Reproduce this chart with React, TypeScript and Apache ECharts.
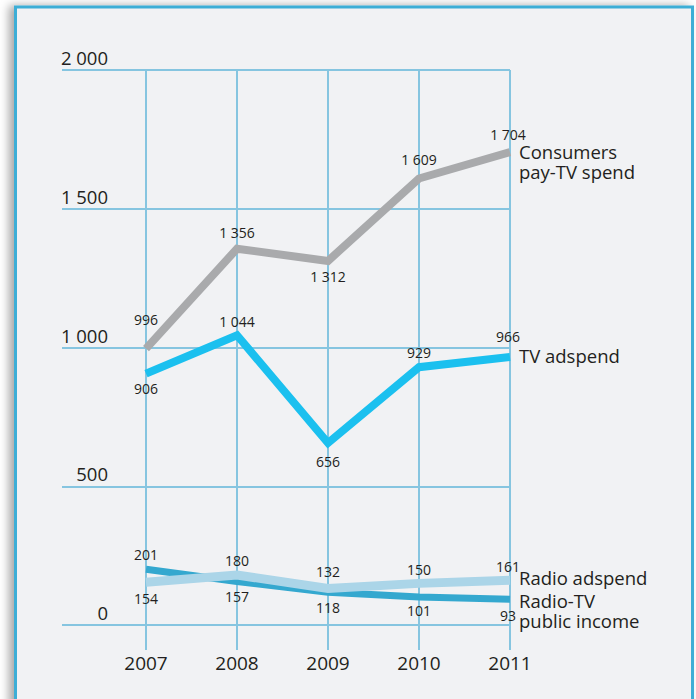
import React, { useEffect, useRef } from "react";
import * as echarts from "echarts";

const years = ["2007", "2008", "2009", "2010", "2011"];
const consumersPayTv = [996, 1356, 1312, 1609, 1704];
const tvAdspend = [906, 1044, 656, 929, 966];
const radioAdspend = [154, 180, 132, 150, 161];
const radioTvPublicIncome = [201, 157, 118, 101, 93];
const yTicks = [0, 500, 1000, 1500, 2000];

// label vertical offsets (style only)
const consumersLabelDy = [-29, -16, 16, -19, -18];
const tvLabelDy = [15, -14, 19, -15, -20];
const radioLabelDy = [16, -15, -17, -14, -14];
const publicLabelDy = [-15, 15, 15, 14, 16];

const FONT = "'Open Sans', 'Noto Sans', sans-serif";
const GRID_COLOR = "#86c5e0";
const TEXT = "#231f20";

const fmt = (v: number) => {
  const s = String(Math.round(v));
  return s.length > 3 ? s.slice(0, s.length - 3) + " " + s.slice(s.length - 3) : s;
};

function makeSeries(
  name: string,
  endName: string,
  values: number[],
  dys: number[],
  color: string,
  width: number,
  endDy: number
) {
  return {
    type: "line",
    name,
    xAxisIndex: 1,
    yAxisIndex: 1,
    symbol: "circle",
    symbolSize: 1,
    itemStyle: { color: "rgba(0,0,0,0)" },
    lineStyle: { color, width, join: "miter", cap: "butt" },
    data: values.map((v, i) => ({
      value: v,
      label: {
        show: true,
        position: "inside",
        offset: [i === values.length - 1 ? -2 : 0, dys[i]],
      },
    })),
    label: {
      show: true,
      color: TEXT,
      fontFamily: FONT,
      fontSize: 14,
      formatter: (p: any) => fmt(p.value),
    },
    endLabel: {
      show: true,
      formatter: () => endName,
      color: TEXT,
      fontFamily: FONT,
      fontSize: 18.5,
      lineHeight: 20,
      distance: 9,
      offset: [0, endDy],
      align: "left",
    },
    emphasis: { disabled: true },
    z: 3,
  };
}

export default function App() {
  const ref = useRef<HTMLDivElement>(null);
  useEffect(() => {
    if (!ref.current) return;
    const chart = echarts.init(ref.current, undefined, { renderer: "svg" });
    chart.setOption({
      animation: false,
      backgroundColor: "#ffffff",
      graphic: [
        {
          type: "rect",
          z: -10,
          silent: true,
          shape: { x: 15.5, y: 7, width: 677, height: 730 },
          style: {
            fill: "#f1f2f4",
            stroke: "#3eaed6",
            lineWidth: 3,
            shadowBlur: 10,
            shadowOffsetX: -5,
            shadowOffsetY: 0,
            shadowColor: "rgba(0,0,0,0.35)",
          },
        },
      ],
      grid: [
        { left: 62, right: 186, top: 70, bottom: 74 },
        { left: 146, right: 186, top: 70, bottom: 74 },
      ],
      xAxis: [
        { type: "value", gridIndex: 0, show: false, min: 0, max: 1 },
        {
          type: "category",
          gridIndex: 1,
          data: years,
          boundaryGap: false,
          axisLine: { show: false },
          axisTick: {
            show: true,
            length: 25,
            lineStyle: { color: GRID_COLOR, width: 2 },
          },
          splitLine: { show: true, lineStyle: { color: GRID_COLOR, width: 2 } },
          axisLabel: {
            color: TEXT,
            fontFamily: FONT,
            fontSize: 19,
            margin: 28,
          },
        },
      ],
      yAxis: [
        {
          type: "value",
          gridIndex: 0,
          min: yTicks[0],
          max: yTicks[yTicks.length - 1],
          interval: yTicks[1] - yTicks[0],
          axisLine: { show: false },
          axisTick: { show: false },
          splitLine: { show: true, lineStyle: { color: GRID_COLOR, width: 2 } },
          axisLabel: {
            inside: true,
            margin: 46,
            align: "right",
            verticalAlign: "bottom",
            padding: [0, 0, 3, 0],
            color: TEXT,
            fontFamily: FONT,
            fontSize: 18.5,
            formatter: (v: number) => fmt(v),
          },
        },
        {
          type: "value",
          gridIndex: 1,
          min: yTicks[0],
          max: yTicks[yTicks.length - 1],
          show: false,
          splitLine: { show: false },
        },
      ],
      series: [
        makeSeries("Consumers pay-TV spend", "Consumers\npay-TV spend", consumersPayTv, consumersLabelDy, "#a9aaac", 8, 9),
        makeSeries("TV adspend", "TV adspend", tvAdspend, tvLabelDy, "#1bc0ef", 8, -1),
        makeSeries("Radio-TV public income", "Radio-TV\npublic income", radioTvPublicIncome, publicLabelDy, "#34a8cf", 7, 11),
        makeSeries("Radio adspend", "Radio adspend", radioAdspend, radioLabelDy, "#abd5e8", 9, -3),
      ],
    });
    return () => chart.dispose();
  }, []);
  return (
    <div
      ref={ref}
      style={{ position: "absolute", left: 0, top: 0, width: 696, height: 699 }}
    />
  );
}
